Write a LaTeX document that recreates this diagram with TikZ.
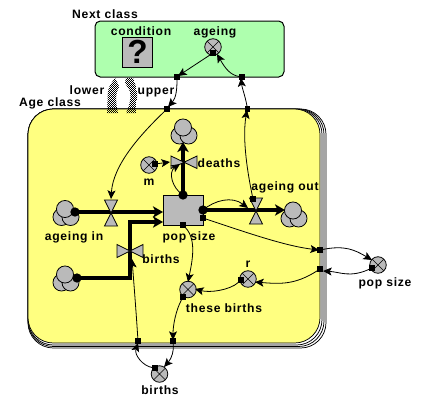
\documentclass[tikz,border=0pt]{standalone}
\usepackage{fontspec}
\setmainfont[LetterSpace=6]{Liberation Sans}
\usetikzlibrary{arrows.meta}
\definecolor{yel}{HTML}{FFFF80}
\definecolor{grn}{HTML}{AEFFAE}
\definecolor{gry}{HTML}{BABABA}
\tikzset{
  lab/.style={font=\fontsize{9.1}{10}\selectfont\bfseries,inner sep=0pt,text=black},
  sq/.style={fill=black,inner sep=0pt,minimum size=3.8pt,rectangle},
  aux/.style={circle,draw=black,fill=gry,inner sep=0pt,minimum size=12.4pt,line width=.6pt,
    path picture={\draw[line width=.5pt] (path picture bounding box.south west)--(path picture bounding box.north east)
      (path picture bounding box.north west)--(path picture bounding box.south east);}},
  conn/.style={line width=.6pt,draw=black},
  arr/.style={conn,-{Stealth[length=6.5pt,width=6pt,inset=1.5pt]}},
  flow/.style={line width=3.3pt,draw=black},
  flowa/.style={flow,-{Stealth[length=7.5pt,width=8.5pt,inset=2pt]}},
  dot/.style={circle,fill=black,inner sep=0pt,minimum size=7pt},
  valve/.style={draw=black,fill=gry,line width=.6pt},
  cl/.style={draw=black,fill=gry,line width=.6pt},
  panel/.style={draw=black,line width=.55pt,rounded corners=19pt}
}
\newcommand{\cloud}[2]{%
  \path[cl] (#1-4.5,#2+4) circle (6.4pt);
  \path[cl] (#1+4.5,#2+4) circle (6.4pt);
  \path[cl] (#1-1,#2-4) circle (6.4pt);
}
\begin{document}
\begin{tikzpicture}[x=.75pt,y=-.75pt]
\useasboundingbox (0,0) rectangle (424,408);
% stacked panel
\path[panel,fill=white] (28,109) rectangle (326,348);
\path[panel,fill=white] (28,109) rectangle (324,346.5);
\path[panel,fill=white] (28,109) rectangle (322,345);
\path[panel,fill=yel] (28,109) rectangle (320,343);
% green panel
\path[draw=black,line width=.75pt,fill=grn,rounded corners=4pt] (95,21) rectangle (284,77);
% question box
\node[draw=black,fill=gry,line width=.6pt,minimum width=23pt,minimum height=22.5pt,inner sep=0pt,
  font=\fontsize{25}{26}\selectfont\bfseries] (cond) at (137.5,52) {?};
% lower/upper hatched links
\begin{scope}
\clip (107,113) .. controls (108,105) and (107,97) .. (108,92) .. controls (108,88) and (110,85) .. (115,78)
  .. controls (117,82) and (119,85) .. (119,87) .. controls (116,92) and (115,100) .. (118,113) -- cycle
  (126,113) .. controls (130,105) and (131,97) .. (130,92) .. controls (129,88) and (126,86) .. (125,82)
  -- (126,78) -- (133,78) .. controls (136,86) and (138,92) .. (137,98) .. controls (136,104) and (136,108) .. (136,113) -- cycle;
\foreach \i in {0,...,17}{\foreach \j in {0,...,18}{
  \fill[black] (104+2*\i,77+2*\j) rectangle +(1,1);
  \fill[black] (105+2*\i,78+2*\j) rectangle +(1,1);
}}
\end{scope}
% clouds
\cloud{184}{131.5}
\cloud{66}{213}
\cloud{294}{214.5}
\cloud{66}{278.5}
% stock
\node[draw=black,fill=gry,line width=.6pt,minimum width=30pt,minimum height=22.5pt,inner sep=0pt] (stock) at (183,210) {};
% flows
\coordinate (f1a) at (75,212); \coordinate (f1b) at (163,212);
\draw[flowa] (f1a) -- (f1b);
\coordinate (f2a) at (77,278); \coordinate (f2m) at (130,278); \coordinate (f2n) at (130,222); \coordinate (f2b) at (163,222);
\draw[flowa] (f2a) -- (f2m) -- (f2n) -- (f2b);
\coordinate (f3a) at (183,195); \coordinate (f3b) at (183,142);
\draw[flowa] (f3a) -- (f3b);
\coordinate (f4a) at (203,210); \coordinate (f4b) at (285,210);
\draw[flowa] (f4a) -- (f4b);
\node[dot] at (f1a) {}; \node[dot] at (f2a) {}; \node[dot] at (f3a) {}; \node[dot] at (f4a) {};
% valves
\path[valve] (104.5,200) -- (117.5,200) -- (104.5,226) -- (117.5,226) -- cycle;
\path[valve] (117,244.5) -- (117,257.5) -- (143,244.5) -- (143,257.5) -- cycle;
\path[valve] (171,156) -- (171,168.5) -- (197,156) -- (197,168.5) -- cycle;
\path[valve] (249.5,198) -- (262.5,198) -- (249.5,224) -- (262.5,224) -- cycle;
% auxiliaries
\node[aux] (ageing) at (213,47) {};
\node[aux] (m) at (149,165) {};
\node[aux] (r) at (248,279) {};
\node[aux] (these) at (188,289.5) {};
\node[aux] (pops) at (378,265) {};
\node[aux] (birthsv) at (159.5,374) {};
% junction squares
\node[sq] (sA) at (213,53) {};
\node[sq] (j1) at (177,77) {};
\node[sq] (j2) at (242,77) {};
\node[sq] (j3) at (167,109) {};
\node[sq] (j4) at (247.5,109) {};
\node[sq] (sm) at (155,164) {};
\node[sq] (sv) at (253,199) {};
\node[sq] (sb) at (183,225) {};
\node[sq] (sc) at (203,218) {};
\node[sq] (j5) at (320,250) {};
\node[sq] (j6) at (320,269) {};
\node[sq] (sp) at (372,268) {};
\node[sq] (sr) at (241,280) {};
\node[sq] (st) at (183,297) {};
\node[sq] (j7) at (138,341) {};
\node[sq] (j8) at (173,341) {};
\node[sq] (sB) at (155,368) {};
% arrow targets
\coordinate (tj1) at (178,76);
\coordinate (tv1) at (111,199);
\coordinate (tdv) at (170,162);
\coordinate (tdv2) at (180,164);
\coordinate (tav) at (248,208);
\coordinate (tage) at (217,54);
\coordinate (tp) at (372,260);
\coordinate (tj6) at (323,271);
\coordinate (tr) at (255,282);
\coordinate (tt) at (195,289);
\coordinate (tt2) at (188,282);
\coordinate (tB) at (164,367);
\coordinate (tbv) at (132,259);
\coordinate (tj7b) at (138,343);
\coordinate (tj3) at (168,107);
\coordinate (tj2) at (241,78);
\coordinate (tj4) at (247,110);
\coordinate (tj5) at (319,250);
\coordinate (tj8) at (173,340);
% connectors
\draw[arr] (sA) -- (tj1);
\draw[arr] (j1) .. controls (177,90) and (176,98) .. (tj3);
\draw[arr] (j3) .. controls (140,135) and (113,165) .. (tv1);
\draw[arr] (sv) .. controls (248,175) and (242,140) .. (tj4);
\draw[arr] (j4) .. controls (245,95) and (242,88) .. (tj2);
\draw[arr] (j2) .. controls (230,75) and (225,68) .. (tage);
\draw[arr] (sm) -- (tdv);
\draw[arr] (f3a) .. controls (172,188) and (168,172) .. (tdv2);
\draw[arr] (f4a) .. controls (215,200) and (232,196) .. (tav);
\draw[arr] (sc) .. controls (245,232) and (285,246) .. (tj5);
\draw[arr] (j5) .. controls (345,245) and (355,250) .. (tp);
\draw[arr] (sp) .. controls (350,278) and (340,272) .. (tj6);
\draw[arr] (j6) .. controls (295,285) and (280,284) .. (tr);
\draw[arr] (sr) .. controls (230,290) and (210,293) .. (tt);
\draw[arr] (sb) .. controls (197,240) and (192,262) .. (tt2);
\draw[arr] (st) .. controls (176,310) and (173,325) .. (tj8);
\draw[arr] (j8) .. controls (174,350) and (172,358) .. (tB);
\draw[arr] (sB) .. controls (143,366) and (134,355) .. (tj7b);
\draw[arr] (j7) .. controls (136,310) and (134,285) .. (tbv);
% labels
\node[lab] at (105,14) {Next class};
\node[lab] at (141,31) {condition};
\node[lab] at (215,32) {ageing};
\node[lab] at (87,90) {lower};
\node[lab] at (156,92) {upper};
\node[lab] at (50,103) {Age class};
\node[lab] at (74,237) {ageing in};
\node[lab] at (189,237) {pop size};
\node[lab] at (161,259) {births};
\node[lab] at (219,163) {deaths};
\node[lab] at (149,182) {m};
\node[lab] at (285,187) {ageing out};
\node[lab] at (248,264) {r};
\node[lab] at (224,308) {these births};
\node[lab] at (385,283) {pop size};
\node[lab] at (160,390) {births};
\end{tikzpicture}
\end{document}
